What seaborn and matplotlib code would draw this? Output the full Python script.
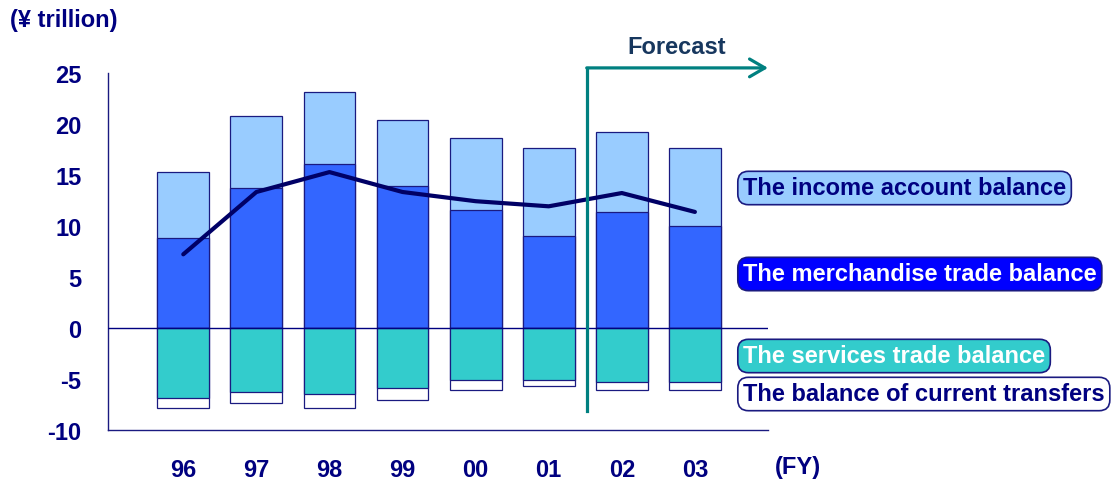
import matplotlib
matplotlib.use("Agg")
import matplotlib.pyplot as plt
import numpy as np
import seaborn as sns

# Fiscal years and balance components (¥ trillion)
years = ["96", "97", "98", "99", "00", "01", "02", "03"]
merchandise = [8.8, 13.7, 16.0, 13.9, 11.5, 9.0, 11.3, 10.0]
income = [6.45, 7.0, 7.05, 6.45, 7.05, 8.6, 7.85, 7.65]
services = [-6.85, -6.25, -6.45, -5.9, -5.1, -5.1, -5.3, -5.3]
transfers = [-0.95, -1.15, -1.35, -1.15, -0.95, -0.6, -0.75, -0.75]
current_account = [7.2, 13.3, 15.25, 13.3, 12.4, 11.9, 13.2, 11.35]
yticks = [-10, -5, 0, 5, 10, 15, 20, 25]
forecast_start = 5.52

sns.set_style("white")
plt.rcParams["font.family"] = ["Liberation Sans", "DejaVu Sans"]
plt.rcParams["font.weight"] = "bold"
plt.rcParams["axes.unicode_minus"] = False

NAVY = "#000080"
EDGE = "#1a1a80"
C_INCOME = "#99CCFF"
C_MERCH = "#3366FF"
C_SERV = "#33CCCC"
C_TRANS = "#FFFFFF"
TEAL = "#008080"

W, H = 1117, 481
fig = plt.figure(figsize=(W / 100, H / 100), dpi=100)
ax = fig.add_axes([108 / W, 1 - 431 / H, (768 - 108) / W, (431 - 73.5) / H])

pos_total = np.add(merchandise, income)
neg_total = np.add(services, transfers)

bar_kw = dict(width=0.71, saturation=1, edgecolor=EDGE, linewidth=0.9, ax=ax)
# Positive side: income stacked on merchandise
sns.barplot(x=years, y=pos_total, color=C_INCOME, **bar_kw)
sns.barplot(x=years, y=merchandise, color=C_MERCH, **bar_kw)
# Negative side: current transfers stacked below services
sns.barplot(x=years, y=neg_total, color=C_TRANS, **bar_kw)
sns.barplot(x=years, y=services, color=C_SERV, **bar_kw)

ax.axhline(0, color=NAVY, lw=1, zorder=3)

# Current account balance line
sns.lineplot(x=np.arange(len(years)), y=current_account, color="#000066",
             lw=3, ax=ax, zorder=5)

ax.set_xlim(-1.03, 8.0)
ax.set_ylim(-10, 25)
ax.set_yticks(yticks)
ax.set_yticklabels([str(v) for v in yticks])
ax.set_xlabel("")
ax.set_ylabel("")

for s in ("top", "right"):
    ax.spines[s].set_visible(False)
for s in ("left", "bottom"):
    ax.spines[s].set_color(EDGE)
    ax.spines[s].set_linewidth(1)

ax.tick_params(axis="y", direction="in", length=8, width=1, color=EDGE,
               labelsize=17, labelcolor=NAVY, pad=19)
ax.tick_params(axis="x", direction="in", length=8, width=1, color=EDGE,
               labelsize=17, labelcolor=NAVY, pad=20)
for lab in ax.get_xticklabels() + ax.get_yticklabels():
    lab.set_fontweight("bold")

# Forecast marker
ax.plot([forecast_start, forecast_start], [-8.18, 25.45], color=TEAL, lw=2.3,
        clip_on=False, solid_capstyle="projecting", zorder=6)
ax.annotate("", xy=(8.0, 25.45), xytext=(forecast_start, 25.45),
            arrowprops=dict(arrowstyle="->,head_length=0.55,head_width=0.32",
                            lw=2.3, color=TEAL, mutation_scale=20,
                            shrinkA=0, shrinkB=0),
            annotation_clip=False, zorder=6)
fig.text(677 / W, 1 - 47 / H, "Forecast", ha="center", va="center",
         fontsize=17, fontweight="bold", color="#17375E")

# Unit and axis captions
fig.text(10 / W, 1 - 21 / H, "(¥ trillion)", ha="left", va="center",
         fontsize=17, fontweight="bold", color=NAVY)
fig.text(775 / W, 1 - 468 / H, "(FY)", ha="left", va="center",
         fontsize=17, fontweight="bold", color=NAVY)

# Series labels
labels = [
    ("The income account balance", 189, C_INCOME, NAVY),
    ("The merchandise trade balance", 275, "#0000FF", "white"),
    ("The services trade balance", 357, C_SERV, "white"),
    ("The balance of current transfers", 395, "white", NAVY),
]
for text, yc, fc, tc in labels:
    fig.text(743 / W, 1 - yc / H, text, ha="left", va="center",
             fontsize=17, fontweight="bold", color=tc,
             bbox=dict(boxstyle="round,pad=0.22,rounding_size=0.45",
                       fc=fc, ec=EDGE, lw=1.2))

fig.savefig("out.png", dpi=100)
